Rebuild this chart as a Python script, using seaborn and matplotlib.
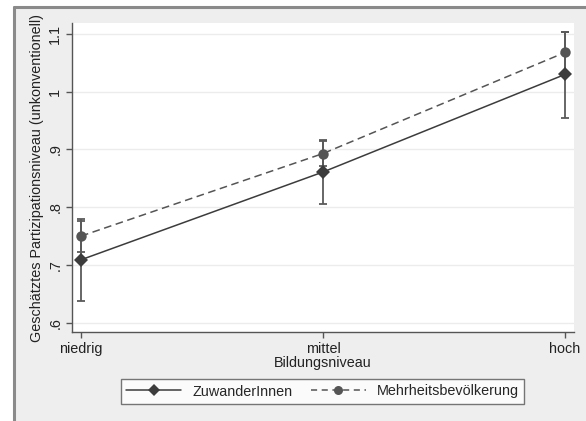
import matplotlib
matplotlib.use("Agg")
import matplotlib.pyplot as plt
import seaborn as sns
import pandas as pd
from matplotlib.patches import Rectangle
from matplotlib.lines import Line2D

sns.set_theme(style="white")
plt.rcParams['font.family'] = ['Liberation Sans', 'DejaVu Sans']

categories = ["niedrig", "mittel", "hoch"]
groups = ["ZuwanderInnen", "Mehrheitsbevölkerung"]
zuw_mean = [0.709, 0.861, 1.030]
zuw_lo = [0.637, 0.806, 0.955]
zuw_hi = [0.779, 0.915, 1.104]
meh_mean = [0.750, 0.893, 1.068]
meh_lo = [0.723, 0.872, 1.033]
meh_hi = [0.777, 0.917, 1.103]
yticks = [0.6, 0.7, 0.8, 0.9, 1.0, 1.1]
ytick_labels = [".6", ".7", ".8", ".9", "1", "1.1"]

FS = 10.4
W, H = 586, 421
fig = plt.figure(figsize=(W / 100, H / 100), dpi=100, facecolor="white")
# grey graph region + frame
fig.patches.append(Rectangle((15 / W, 0), 1, 1 - 8 / H, transform=fig.transFigure,
                             facecolor="#eeeeee", edgecolor="none", zorder=-10))
fig.lines.append(Line2D([14 / W, 14 / W], [0, 1 - 7 / H], transform=fig.transFigure,
                        color="#8a8a8a", lw=2.2))
fig.lines.append(Line2D([14 / W, 1], [1 - 7 / H, 1 - 7 / H], transform=fig.transFigure,
                        color="#8a8a8a", lw=2.2))

ax = fig.add_axes([72 / W, 1 - 332 / H, (574 - 72) / W, (332 - 23) / H])
ax.set_facecolor("white")

xpos = list(range(len(categories)))
df = pd.DataFrame({
    "x": xpos * 2,
    "y": zuw_mean + meh_mean,
    "group": [groups[0]] * 3 + [groups[1]] * 3,
})

colors = {groups[0]: "#3c3c3c", groups[1]: "#555555"}

for g, mean, lo, hi in [(groups[0], zuw_mean, zuw_lo, zuw_hi), (groups[1], meh_mean, meh_lo, meh_hi)]:
    ax.errorbar(xpos, mean, yerr=[[m - l for m, l in zip(mean, lo)], [h - m for m, h in zip(mean, hi)]],
                fmt="none", ecolor="#5a5a5a", elinewidth=1.3, capsize=2.8, capthick=1.3, zorder=2)

sns.lineplot(data=df, x="x", y="y", hue="group", style="group", palette=colors,
             dashes={groups[0]: "", groups[1]: (5, 3)},
             markers={groups[0]: "D", groups[1]: "o"}, markersize=7.5,
             markeredgewidth=0, linewidth=1.1, ax=ax, legend=False, zorder=3)

ax.set_xlim(-0.037, 2.037)
ax.set_ylim(0.584, 1.119)
ax.set_xticks(xpos)
ax.set_xticklabels(categories, fontsize=FS, color="#222222")
ax.set_yticks(yticks)
ax.set_yticklabels(ytick_labels, fontsize=FS, rotation=90, va="center", color="#222222")
ax.tick_params(axis="both", which="both", length=4, width=1, color="#555555", pad=3, left=True, bottom=True)
ax.grid(axis="y", color="#ececec", linewidth=1)
ax.set_axisbelow(True)
for s in ["top", "right"]:
    ax.spines[s].set_visible(False)
for s in ["left", "bottom"]:
    ax.spines[s].set_color("#555555")
    ax.spines[s].set_linewidth(1)
ax.set_xlabel("Bildungsniveau", fontsize=FS, color="#222222", labelpad=0)
ax.set_ylabel("Geschätztes Partizipationsniveau (unkonventionell)", fontsize=FS, color="#222222", labelpad=3)

handles = [
    Line2D([], [], color=colors[groups[0]], lw=1.1, marker="D", markersize=6.5, markeredgewidth=0),
    Line2D([], [], color=colors[groups[1]], lw=1.1, ls=(0, (4, 3)), marker="o", markersize=6.5, markeredgewidth=0),
]
leg = fig.legend(handles, groups, loc="center", bbox_to_anchor=((119 + 526) / 2 / W, 1 - 391.5 / H),
                 ncol=2, fontsize=FS, frameon=True, fancybox=False, edgecolor="#555555",
                 handlelength=3.8, columnspacing=1.3, borderpad=0.4, handletextpad=0.75)
leg.get_frame().set_linewidth(1)
leg.get_frame().set_facecolor("white")

fig.savefig("out.png", dpi=100, facecolor="white")
